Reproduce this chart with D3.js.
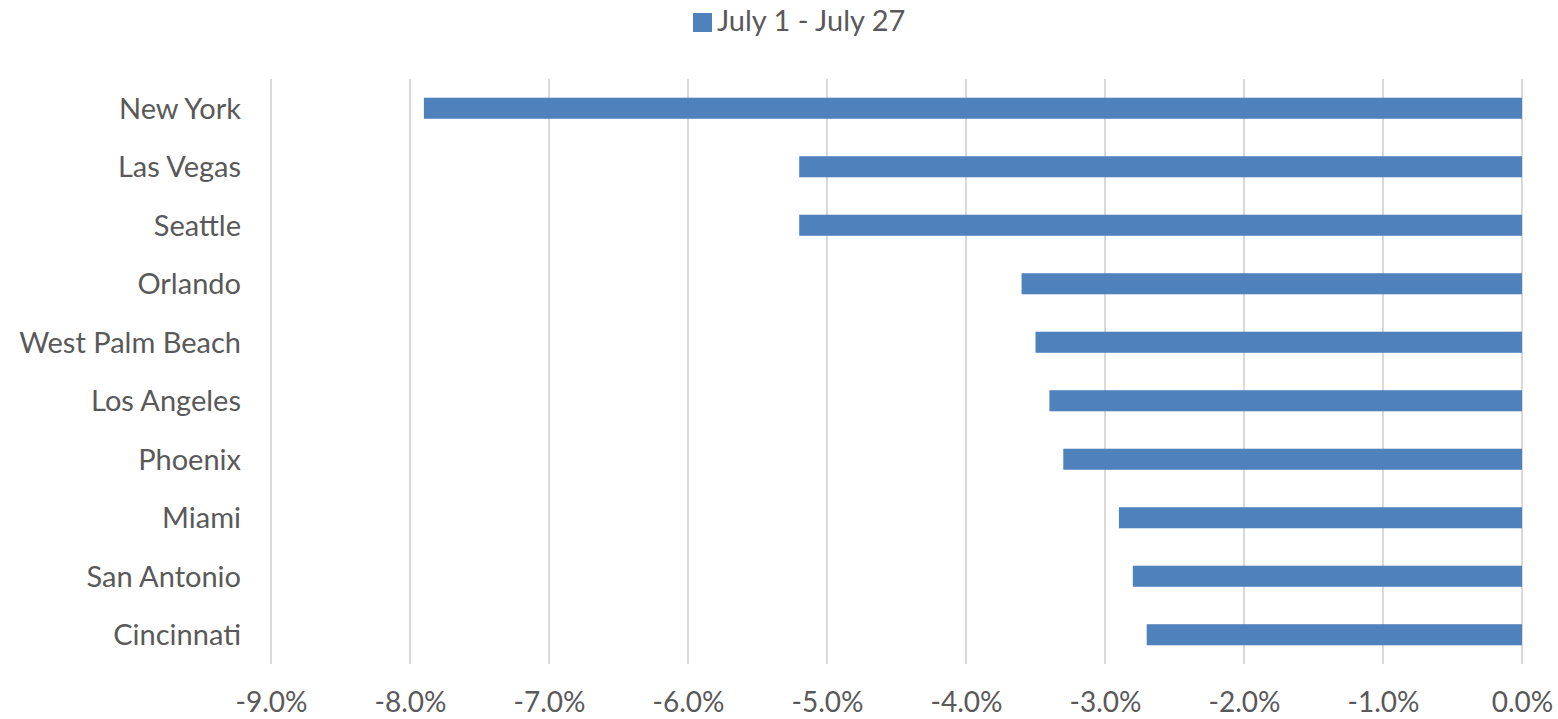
<!DOCTYPE html>
<html>
<head>
<meta charset="utf-8">
<script src="https://cdn.jsdelivr.net/npm/d3@7"></script>
<style>
  html, body { margin: 0; padding: 0; background: #fff; }
  svg { display: block; }
  text { font-family: Lato, "Open Sans", sans-serif; fill: #595959; }
</style>
</head>
<body>
<svg id="chart" width="1558" height="719"></svg>
<script>
// Change in value by city, July 1 - July 27 (percent)
const cities = ["New York", "Las Vegas", "Seattle", "Orlando", "West Palm Beach",
                "Los Angeles", "Phoenix", "Miami", "San Antonio", "Cincinnati"];
const changes = [-7.9, -5.2, -5.2, -3.6, -3.5, -3.4, -3.3, -2.9, -2.8, -2.7];
const xTicks = [-9, -8, -7, -6, -5, -4, -3, -2, -1, 0];
const seriesName = "July 1 - July 27";

const svg = d3.select("#chart");
const margin = { left: 271, right: 36, top: 79, bottom: 55 };
const W = 1558, H = 719;
const fontSize = "29px";

const x = d3.scaleLinear().domain([-9, 0]).range([margin.left, W - margin.right]);
const y = d3.scaleBand().domain(cities)
  .range([margin.top, H - margin.bottom])
  .paddingInner(0.64).paddingOuter(0.32);

// vertical gridlines
svg.append("g").selectAll("line").data(xTicks).join("line")
  .attr("x1", d => x(d)).attr("x2", d => x(d))
  .attr("y1", margin.top).attr("y2", H - margin.bottom)
  .attr("stroke", "#d9d9d9").attr("stroke-width", 2);

// bars
const data = cities.map((c, i) => ({ city: c, value: changes[i] }));
svg.append("g").selectAll("rect").data(data).join("rect")
  .attr("x", d => x(d.value))
  .attr("width", d => x(0) - x(d.value))
  .attr("y", d => y(d.city))
  .attr("height", y.bandwidth())
  .attr("fill", "#4f81bd");

// x-axis labels
const xAxis = d3.axisBottom(x).tickValues(xTicks)
  .tickFormat(d => d3.format(".1f")(d).replace("−", "-") + "%")
  .tickSize(0).tickPadding(0);
const gx = svg.append("g").attr("transform", `translate(0,${H - margin.bottom})`).call(xAxis);
gx.select(".domain").remove();
gx.selectAll("text").attr("y", 48).attr("dy", null)
  .style("font-size", "28px").attr("fill", "#595959");

// category labels
const yAxis = d3.axisLeft(y).tickSize(0).tickPadding(30);
const gy = svg.append("g").attr("transform", `translate(${margin.left},0)`).call(yAxis);
gy.select(".domain").remove();
gy.selectAll("text").style("font-size", fontSize).attr("fill", "#595959").attr("dy", "0.36em");

// legend
const legend = svg.append("g").attr("transform", "translate(693,13)");
legend.append("rect").attr("width", 19).attr("height", 19).attr("fill", "#4f81bd");
legend.append("text").attr("x", 24).attr("y", 17.5)
  .style("font-size", fontSize).text(seriesName);
</script>
</body>
</html>
